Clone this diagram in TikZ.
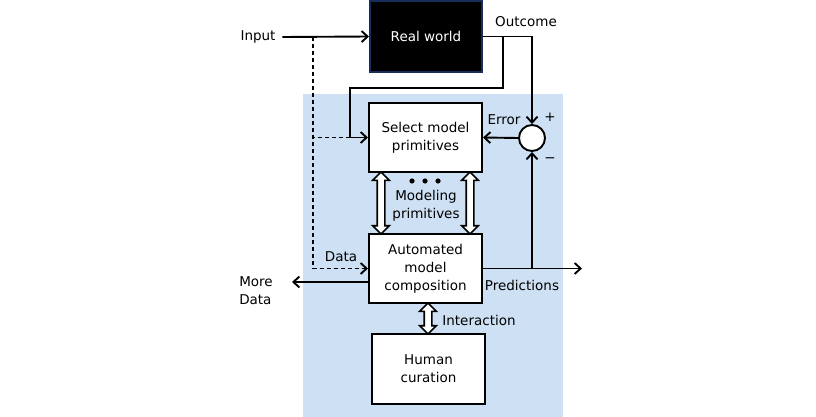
\documentclass[tikz,border=0pt]{standalone}
\usepackage{fontspec}
\setmainfont{DejaVu Sans}
\usetikzlibrary{arrows.meta,shapes.arrows}
\definecolor{panelblue}{RGB}{206,224,243}
\definecolor{navyline}{RGB}{25,45,90}
\begin{document}
\begin{tikzpicture}[x=1pt, y=-1pt, line width=1.9pt,
  every node/.style={font=\fontsize{13.5}{18}\selectfont},
  >={Straight Barb[length=6pt,width=11pt]},
  box/.style={draw, fill=white, align=center, line width=2pt, minimum width=113pt, minimum height=69pt},
  dblarrow/.style={double arrow, draw, fill=white, line width=1.6pt, shape border rotate=90,
    double arrow head extend=4.5pt, inner sep=3pt}]
  \useasboundingbox (0,0) rectangle (816,417);
  \fill[panelblue] (303,94) rectangle (563,417);
  % blocks
  \node[box, draw=navyline, fill=black, text=white, minimum width=112pt, minimum height=71pt] (real) at (426,36.5) {Real world};
  \node[box] (select) at (425.5,137.5) {Select model\\primitives};
  \node[box] (auto) at (425.5,268.5) {Automated\\model\\composition};
  \node[box, minimum height=70pt] (human) at (428.5,369) {Human\\curation};
  \node[draw, fill=white, circle, minimum size=26pt, inner sep=0pt] (sum) at (532,138) {};
  % labels
  \node[inner sep=6pt] (input) at (258,37) {Input};
  \node (outcome) at (526,22) {Outcome};
  \node (error) at (504,120) {Error};
  \node (plus) at (550,117) {+};
  \node (minus) at (550,160) {−};
  \node (data) at (341,257) {Data};
  \node (pred) at (522,285) {Predictions};
  \node (inter) at (479,320) {Interaction};
  \node[align=center] (prims) at (426,206) {Modeling\\primitives};
  \node[align=left] (more) at (256,291) {More\\Data};
  \foreach \dx in {412,425,438} \fill (\dx,181) circle (2.6pt);
  % wiring
  \coordinate (split) at (313,37);
  \coordinate (tap) at (503,37);
  \coordinate (loop) at (350,88);
  \coordinate (join) at (350,137.5);
  \coordinate (predend) at (582,268.5);
  \coordinate (moreend) at (292,282);
  \draw[->] (input.east) -- (real.west);
  \draw[->] (real.east) -| (sum.north);
  \draw[->] (tap) |- (loop) |- (select.west);
  \draw[dash pattern=on 4pt off 3pt] (split) |- (join);
  \draw[->, dash pattern=on 4pt off 3pt] (split) |- (auto.west);
  \draw[->] (sum.west) -- (select.east);
  \draw[->] (auto.east) -- (predend);
  \draw[->] (auto.east -| sum) -- (sum.south);
  \draw[->] ([yshift=-13.5pt]auto.west) -- (moreend);
  % hollow arrows
  \node[dblarrow, minimum height=62pt] (link1) at (381,203) {};
  \node[dblarrow, minimum height=62pt] (link2) at (470,203) {};
  \node[dblarrow, minimum height=31pt] (link3) at (428,318.5) {};
\end{tikzpicture}
\end{document}
